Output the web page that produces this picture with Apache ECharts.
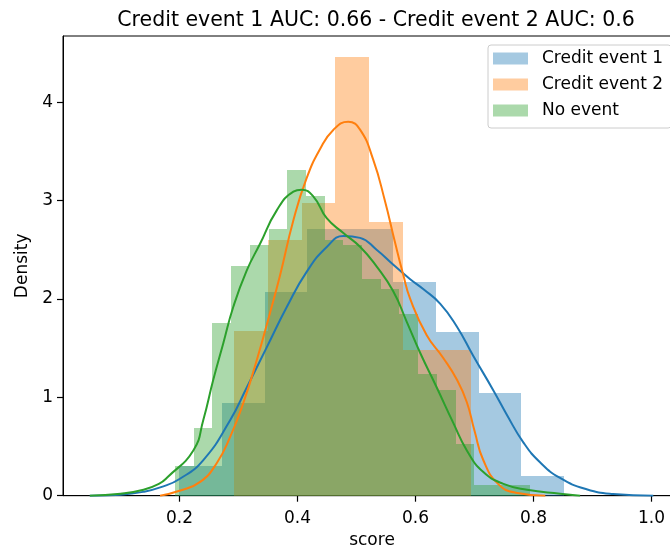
<!DOCTYPE html>
<html>
<head>
<meta charset="utf-8">
<script src="https://cdn.jsdelivr.net/npm/echarts@6/dist/echarts.min.js"></script>
<style>
  html, body { margin: 0; padding: 0; background: #fff; }
  #chart { width: 670px; height: 548px; }
</style>
</head>
<body>
<div id="chart"></div>
<script>
const titleText = 'Credit event 1 AUC: 0.66 - Credit event 2 AUC: 0.6';
const seriesNames = ['Credit event 1', 'Credit event 2', 'No event'];
const xTicks = [0.2, 0.4, 0.6, 0.8, 1.0];
const yTicks = [0, 1, 2, 3, 4];

// Histogram bin edges and densities, one pair per group
const edges1 = [0.1991, 0.2716, 0.3441, 0.4167, 0.4892, 0.5617, 0.6342, 0.7068, 0.7793, 0.8518];
const dens1  = [0.30, 0.94, 2.07, 2.71, 2.71, 2.17, 1.66, 1.04, 0.20];

const edges2 = [0.2924, 0.3497, 0.4070, 0.4642, 0.5215, 0.5788, 0.6361, 0.6934];
const dens2  = [1.67, 2.60, 2.97, 4.46, 2.78, 1.48, 1.48];

const edges3 = [0.1924, 0.2241, 0.2558, 0.2875, 0.3192, 0.3509, 0.3826, 0.4143, 0.4460, 0.4777,
                0.5094, 0.5411, 0.5728, 0.6045, 0.6362, 0.6679, 0.6996, 0.7313, 0.7630, 0.7947];
const dens3  = [0.30, 0.69, 1.76, 2.33, 2.55, 2.71, 3.31, 3.05, 2.60, 2.55,
                2.20, 2.10, 1.85, 1.24, 1.07, 0.53, 0.11, 0.11, 0.11];

// Kernel density curves as [score, density]
const kde1 = [[0.048, 0], [0.10, 0.01], [0.139, 0.04], [0.17, 0.09], [0.20, 0.17], [0.24, 0.36],
              [0.286, 0.77], [0.314, 1.10], [0.348, 1.51], [0.382, 1.92], [0.416, 2.28], [0.45, 2.53],
              [0.478, 2.64], [0.506, 2.62], [0.534, 2.50], [0.562, 2.35], [0.591, 2.20], [0.613, 2.10],
              [0.642, 1.95], [0.670, 1.72], [0.698, 1.42], [0.732, 1.07], [0.755, 0.82], [0.783, 0.54],
              [0.811, 0.34], [0.845, 0.18], [0.89, 0.065], [0.935, 0.017], [1.003, 0]];

const kde2 = [[0.167, 0], [0.20, 0.05], [0.235, 0.14], [0.263, 0.33], [0.286, 0.60], [0.308, 0.94],
              [0.331, 1.38], [0.353, 1.85], [0.37, 2.23], [0.393, 2.80], [0.415, 3.22], [0.438, 3.52],
              [0.461, 3.72], [0.486, 3.80], [0.506, 3.72], [0.528, 3.42], [0.548, 3.00], [0.565, 2.58],
              [0.579, 2.25], [0.591, 2.00], [0.619, 1.63], [0.647, 1.40], [0.67, 1.18], [0.687, 0.95],
              [0.70, 0.66], [0.715, 0.36], [0.74, 0.12], [0.77, 0.03], [0.82, 0]];

const kde3 = [[0.048, 0], [0.10, 0.02], [0.139, 0.06], [0.165, 0.12], [0.18, 0.19], [0.2234, 0.46],
              [0.2403, 0.77], [0.2573, 1.18], [0.2742, 1.55], [0.2912, 1.92], [0.314, 2.29], [0.3365, 2.56],
              [0.3648, 2.90], [0.393, 3.09], [0.407, 3.11], [0.427, 3.04], [0.4495, 2.82], [0.4777, 2.67],
              [0.506, 2.53], [0.534, 2.33], [0.562, 2.08], [0.585, 1.77], [0.608, 1.45], [0.636, 1.10],
              [0.664, 0.74], [0.687, 0.46], [0.715, 0.24], [0.749, 0.12], [0.789, 0.06], [0.845, 0.02], [0.879, 0]];

const colors = ['#1f77b4', '#ff7f0e', '#2ca02c'];
const FONT = 'DejaVu Sans';

function binsToData(edges, dens) {
  return dens.map((d, i) => [edges[i], edges[i + 1], d]);
}

// Each bin is a filled rectangle from its left edge to its right edge, snapped to whole pixels
function histRender(params, api) {
  const x0 = api.value(0), x1 = api.value(1), h = api.value(2);
  const p0 = api.coord([x0, h]);
  const p1 = api.coord([x1, 0]);
  const l = Math.round(p0[0]), r = Math.round(p1[0]);
  const t = Math.round(p0[1]), b = Math.round(p1[1]);
  return {
    type: 'rect',
    shape: { x: l, y: t, width: r - l, height: b - t },
    style: { fill: api.visual('color'), opacity: 0.4 }
  };
}

const hists = [[edges1, dens1], [edges2, dens2], [edges3, dens3]];
const kdes = [kde1, kde2, kde3];

const series = [];
hists.forEach(([e, d], i) => {
  series.push({
    type: 'custom',
    name: seriesNames[i],
    renderItem: histRender,
    data: binsToData(e, d),
    encode: { x: [0, 1], y: 2 },
    itemStyle: { color: colors[i] },
    silent: true,
    z: 1
  });
});
kdes.forEach((k, i) => {
  series.push({
    type: 'line',
    name: seriesNames[i] + ' density',
    data: k,
    showSymbol: false,
    smooth: 0.5,
    lineStyle: { color: colors[i], width: 2 },
    itemStyle: { color: colors[i] },
    silent: true,
    z: 3
  });
});

const chart = echarts.init(document.getElementById('chart'), null, { renderer: 'canvas' });
chart.setOption({
  animation: false,
  backgroundColor: '#fff',
  title: {
    text: titleText,
    left: 371,
    textAlign: 'center',
    top: 5,
    textStyle: { fontFamily: FONT, fontSize: 20.5, fontWeight: 'normal', color: '#000' }
  },
  legend: {
    data: seriesNames.map((n, i) => ({ name: n, itemStyle: { color: colors[i], opacity: 0.4 } })),
    orient: 'vertical',
    left: 488,
    top: 45,
    icon: 'rect',
    itemWidth: 35,
    itemHeight: 12,
    itemGap: 9,
    padding: [5, 8, 9, 5],
    backgroundColor: '#fff',
    borderColor: '#cccccc',
    borderWidth: 1,
    borderRadius: 3,
    selectedMode: false,
    textStyle: { fontFamily: FONT, fontSize: 17, color: '#000', padding: [0, 0, 0, 9] }
  },
  grid: {
    left: 63, top: 36, width: 618, bottom: 52.3,
    outerBoundsMode: 'none',
    containLabel: false,
    show: true, borderColor: '#000', borderWidth: 1, backgroundColor: 'transparent'
  },
  xAxis: {
    type: 'value',
    min: 0.0025,
    max: 1.05,
    name: 'score',
    nameLocation: 'middle',
    nameGap: 36,
    nameTextStyle: { fontFamily: FONT, fontSize: 17, color: '#000' },
    axisLine: { show: true, lineStyle: { color: '#000', width: 1 } },
    axisTick: { show: true, length: 6, customValues: xTicks, lineStyle: { color: '#000', width: 1.2 } },
    axisLabel: { customValues: xTicks, formatter: v => v.toFixed(1), fontFamily: FONT, fontSize: 17, color: '#000', margin: 14 },
    splitLine: { show: false }
  },
  yAxis: {
    type: 'value',
    min: 0,
    max: 4.672,
    name: 'Density',
    nameLocation: 'middle',
    nameGap: 25,
    nameTextStyle: { fontFamily: FONT, fontSize: 17, color: '#000' },
    axisLine: { show: true, lineStyle: { color: '#000', width: 1 } },
    axisTick: { show: true, length: 6, customValues: yTicks, lineStyle: { color: '#000', width: 1.2 } },
    axisLabel: { customValues: yTicks, formatter: v => String(v), fontFamily: FONT, fontSize: 17, color: '#000', margin: 10 },
    splitLine: { show: false }
  },
  series: series
});
</script>
</body>
</html>
